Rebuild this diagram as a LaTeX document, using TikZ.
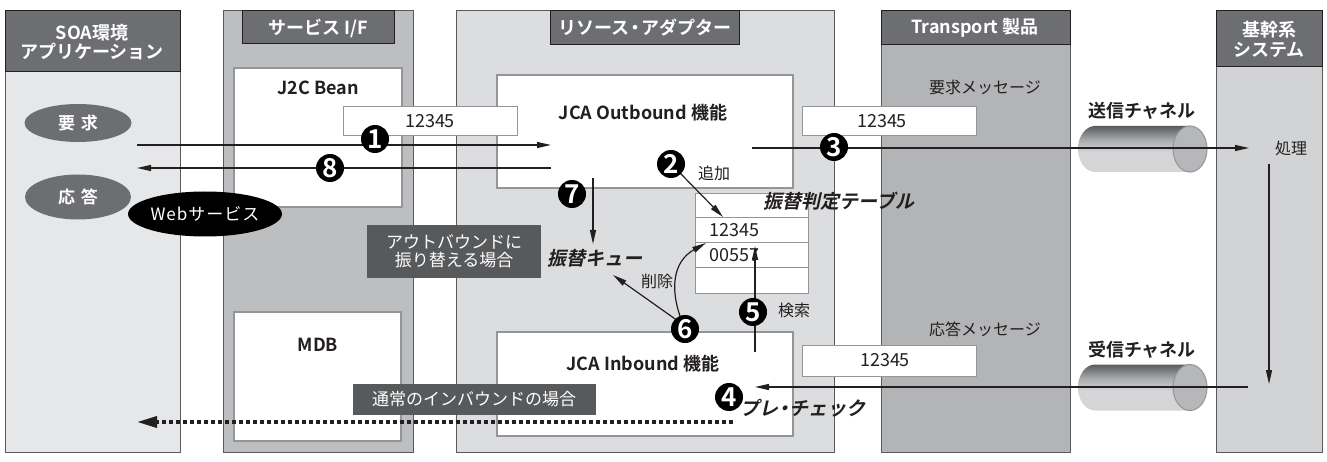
\documentclass[tikz,border=0pt]{standalone}
\usepackage{fontspec}
\setmainfont{Noto Sans CJK JP}[BoldFont={Noto Sans CJK JP Bold}]
\newfontfamily\bif{Noto Sans CJK JP Bold}[FakeSlant=0.22]
\usetikzlibrary{arrows.meta,shapes.geometric}
\definecolor{hdr}{HTML}{6D6E71}
\definecolor{soabg}{HTML}{E6E7E8}
\definecolor{sifbg}{HTML}{BCBEC0}
\definecolor{rabg}{HTML}{DCDDDE}
\definecolor{trbg}{HTML}{B3B4B6}
\definecolor{kkbg}{HTML}{D1D3D4}
\definecolor{lbl}{HTML}{58595B}
\definecolor{edge}{HTML}{58595B}
\definecolor{ibord}{HTML}{939598}
\definecolor{txt}{HTML}{231F20}
\definecolor{cyltop}{HTML}{5A5B5D}
\definecolor{cylmid}{HTML}{A9AAAC}
\definecolor{cylbot}{HTML}{D4D5D7}
\definecolor{cylcap}{HTML}{B6B7B9}
\pgfdeclareverticalshading{cylshade}{100bp}{color(0bp)=(cylbot); color(25bp)=(cylbot); color(47bp)=(cylbot); color(60bp)=(cylmid); color(75bp)=(cyltop); color(100bp)=(cyltop)}
\newcommand{\fs}[1]{\fontsize{#1}{#1}\selectfont}
\tikzset{
  box/.style={anchor=north west, inner sep=0pt, outer sep=0pt},
  colbox/.style={box, draw=edge, line width=1pt},
  hdrbox/.style={box, fill=hdr, draw=txt, line width=1pt},
  innerbox/.style={box, fill=white, draw=ibord, line width=1.3pt},
  numbox/.style={box, fill=white, draw=ibord, line width=1pt},
  hdrtext/.style={text=white, font=\bfseries\fs{18}, align=center, inner sep=0pt},
  boxtitle/.style={text=txt, font=\bfseries\fs{18}, inner sep=0pt},
  plain/.style={text=txt, font=\fs{16}, inner sep=0pt},
  digits/.style={text=txt, font=\fs{18}, inner sep=0pt},
  bitext/.style={text=txt, font=\bif\fs{19}, inner sep=0pt},
  chtext/.style={text=txt, font=\bfseries\fs{18}, inner sep=0pt},
  lblbox/.style={box, fill=lbl, text=white, font=\fs{16}, align=center},
  oval/.style={ellipse, inner sep=0pt, text=white, font=\bfseries\fs{17}},
  arr/.style={draw=txt, line width=1.2pt, -{Triangle[length=14pt,width=6pt]}},
  num/.style={circle, fill=black, text=white, inner sep=0pt, minimum size=28pt, font=\bfseries\fs{26}},
}
\begin{document}
\begin{tikzpicture}[x=1pt,y=-1pt]
\useasboundingbox (0,0) rectangle (1327,462);
\fill[white] (0,0) rectangle (1327,462);
% columns
\node[colbox, fill=soabg, minimum width=175pt, minimum height=441pt] (soa) at (5,11) {};
\node[hdrbox, minimum width=175pt, minimum height=61pt] (soaH) at (5,11) {};
\node[hdrtext] (soaT) at (92,42) {SOA環境\\[1pt]アプリケーション};
\node[colbox, fill=sifbg, minimum width=190pt, minimum height=441pt] (sif) at (223,11) {};
\node[hdrbox, minimum width=152pt, minimum height=33pt] (sifH) at (242,11) {};
\node[hdrtext] (sifT) at (318,28) {サービス I/F};
\node[colbox, fill=rabg, minimum width=378pt, minimum height=441pt] (ra) at (456,11) {};
\node[hdrbox, minimum width=189pt, minimum height=34pt] (raH) at (550,11) {};
\node[hdrtext] (raT) at (645,28) {リソース{\kern-3pt}・{\kern-3pt}アダプター};
\node[colbox, fill=trbg, minimum width=189pt, minimum height=441pt] (tr) at (881,11) {};
\node[hdrbox, minimum width=189pt, minimum height=34pt] (trH) at (881,11) {};
\node[hdrtext] (trT) at (975,28) {Transport 製品};
\node[colbox, fill=kkbg, minimum width=106pt, minimum height=441pt] (kk) at (1216,11) {};
\node[hdrbox, minimum width=106pt, minimum height=56pt] (kkH) at (1216,11) {};
\node[hdrtext] (kkT) at (1269,39) {基幹系\\[2pt]システム};
% inner boxes
\node[innerbox, minimum width=168pt, minimum height=139pt] (j2c) at (234,68) {};
\node[boxtitle] (j2cT) at (318,88) {J2C Bean};
\node[innerbox, minimum width=167pt, minimum height=129pt] (mdb) at (234,312) {};
\node[boxtitle] (mdbT) at (318,345) {MDB};
\node[innerbox, minimum width=296pt, minimum height=113pt] (out) at (497,75) {};
\node[boxtitle] (outT) at (643,113) {JCA Outbound 機能};
\node[innerbox, minimum width=296pt, minimum height=104pt] (inb) at (497,332) {};
\node[boxtitle] (inT) at (643,364) {JCA Inbound 機能};
% message boxes
\node[numbox, minimum width=174pt, minimum height=29pt] (nb1) at (343,107) {};
\node[digits] (nb1T) at (430,121.5) {12345};
\node[numbox, minimum width=174pt, minimum height=29pt] (nb2) at (802,107) {};
\node[digits] (nb2T) at (882,121.5) {12345};
\node[numbox, minimum width=174pt, minimum height=31pt] (nb3) at (802,345) {};
\node[digits] (nb3T) at (885,360.5) {12345};
\node[plain] (reqM) at (985,87) {要求メッセージ};
\node[plain] (resM) at (985,329) {応答メッセージ};
% table
\node[numbox, minimum width=113pt, minimum height=24pt] (t0) at (695,194) {};
\node[numbox, minimum width=113pt, minimum height=25pt] (t1) at (695,218) {};
\node[numbox, minimum width=113pt, minimum height=25pt] (t2) at (695,243) {};
\node[numbox, minimum width=113pt, minimum height=25pt] (t3) at (695,268) {};
\node[digits, anchor=west] (t1T) at (709,230.5) {12345};
\node[digits, anchor=west] (t2T) at (709,255.5) {00557};
\node[bitext] (tblT) at (839,201) {振替判定テーブル};
\node[bitext] (qT) at (595,258) {振替キュー};
\node[bitext] (pcT) at (803,408) {プレ{\kern-4pt}・{\kern-4pt}チェック};
\node[plain] (addT) at (714,173) {追加};
\node[plain] (srchT) at (794,310) {検索};
\node[plain] (delT) at (657,281) {削除};
% labels
\node[lblbox, minimum width=174pt, minimum height=53pt] (outL) at (367,225) {};
\node[text=white, font=\fs{17}, align=center, inner sep=0pt] (outLT) at (454,251.5) {アウトバウンドに\\[1pt]振り替える場合};
\node[lblbox, minimum width=243pt, minimum height=31pt] (inL) at (353,384) {};
\node[text=white, font=\fs{17}, inner sep=0pt] (inLT) at (474,399.5) {通常のインバウンドの場合};
% cylinders
\foreach \cy in {149, 387.5}{
  \shade[shading=cylshade]
    (1190,\cy-23) -- (1095,\cy-23) arc[start angle=270, end angle=90, x radius=17, y radius=23]
    -- (1190,\cy+23) -- cycle;
  \draw[ibord, line width=1pt, fill=cylcap] (1190,\cy) ellipse[x radius=17, y radius=23];
}
\node[chtext] (sndT) at (1142,111) {送信チャネル};
\node[chtext] (rcvT) at (1142,350) {受信チャネル};
\node[plain] (procT) at (1291,148) {処理};
% arrows
\coordinate (a1s) at (137,145); \coordinate (a1e) at (551,145);
\coordinate (a8s) at (551,168); \coordinate (a8e) at (137,168);
\coordinate (a3s) at (752,148); \coordinate (a3e) at (1249,148);
\coordinate (dns) at (1269,164); \coordinate (dne) at (1269,384);
\coordinate (a4s) at (1248,387); \coordinate (a4e) at (755,387);
\coordinate (a7s) at (593,178); \coordinate (a7e) at (593,244);
\coordinate (a2s) at (680,173); \coordinate (a2e) at (723,217);
\coordinate (a5s) at (755,352); \coordinate (a5e) at (755,246);
\coordinate (a6s) at (678,321); \coordinate (a6e) at (613,275);
\coordinate (a6bs) at (680,316); \coordinate (a6be) at (706,243);
\draw[arr] (a1s) -- (a1e);
\draw[arr] (a8s) -- (a8e);
\draw[arr] (a3s) -- (a3e);
\draw[arr] (dns) -- (dne);
\draw[arr] (a4s) -- (a4e);
\draw[arr] (a7s) -- (a7e);
\draw[arr] (a2s) -- (a2e);
\draw[arr] (a5s) -- (a5e);
\draw[arr] (a6s) -- (a6e);
\draw[arr] (a6bs) .. controls (671,290) and (672,262) .. (a6be);
\coordinate (dts) at (733,422); \coordinate (dte) at (137,422);
\draw[txt, line width=3.5pt, dash pattern=on 4pt off 3pt, -{Triangle[length=20pt,width=11pt]}] (dts) -- (dte);
% numbered circles
\node[num] (n1) at (375,139) {1};
\node[num] (n2) at (671,164) {2};
\node[num] (n3) at (834,147) {3};
\node[num] (n4) at (729,397) {4};
\node[num] (n5) at (753,312) {5};
\node[num] (n6) at (685,329) {6};
\node[num] (n7) at (572,194) {7};
\node[num] (n8) at (330,168) {8};
% ovals
\node[oval, fill=hdr, minimum width=107pt, minimum height=38pt] (req) at (78,123) {要\,\,求};
\node[oval, fill=hdr, minimum width=106pt, minimum height=45pt] (res) at (78,197) {応\,\,答};
\node[oval, fill=black, font=\fs{17}, minimum width=152pt, minimum height=45pt] (web) at (205,214) {W\kern1pt e\kern1pt b\kern1pt サ\kern1pt ー\kern1pt ビ\kern1pt ス};
\end{tikzpicture}
\end{document}
